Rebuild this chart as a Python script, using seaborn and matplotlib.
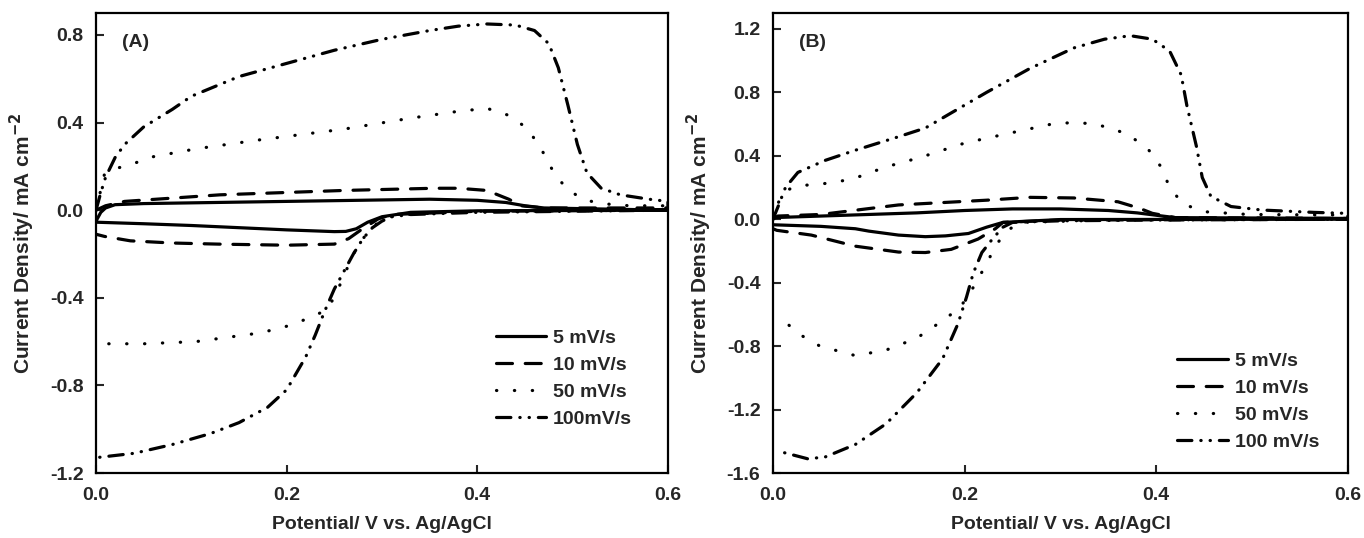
import numpy as np
import pandas as pd
import matplotlib
matplotlib.use("Agg")
import matplotlib.pyplot as plt
import seaborn as sns

# scan rates
rates = ["5 mV/s", "10 mV/s", "50 mV/s", "100mV/s"]
rates_b = ["5 mV/s", "10 mV/s", "50 mV/s", "100 mV/s"]

# ---------- Panel A ----------
# forward (anodic) branch, 0 -> 0.6 V
a5_up_x = [0.0, 0.005, 0.01, 0.02, 0.05, 0.2, 0.35, 0.4, 0.43, 0.45, 0.47, 0.6]
a5_up_y = [-0.05, -0.01, 0.01, 0.025, 0.03, 0.04, 0.05, 0.045, 0.035, 0.02, 0.01, 0.0]
# reverse (cathodic) branch, 0.6 -> 0 V
a5_dn_x = [0.6, 0.4, 0.33, 0.3, 0.285, 0.273, 0.262, 0.25, 0.2, 0.15, 0.1, 0.05, 0.0]
a5_dn_y = [0.0, -0.003, -0.01, -0.03, -0.055, -0.085, -0.097, -0.098, -0.09, -0.08, -0.07, -0.062, -0.055]

a10_up_x = [0.0, 0.01, 0.03, 0.13, 0.26, 0.355, 0.38, 0.41, 0.433, 0.446, 0.47, 0.5, 0.6]
a10_up_y = [0.0, 0.02, 0.04, 0.07, 0.09, 0.1, 0.1, 0.09, 0.05, 0.02, 0.01, 0.01, 0.01]
a10_dn_x = [0.6, 0.4, 0.31, 0.296, 0.278, 0.265, 0.25, 0.2, 0.128, 0.08, 0.036, 0.009, 0.0]
a10_dn_y = [0.0, -0.005, -0.02, -0.04, -0.09, -0.13, -0.155, -0.16, -0.155, -0.15, -0.14, -0.12, -0.11]

a50_up_x = [0.0, 0.009, 0.02, 0.036, 0.055, 0.105, 0.17, 0.26, 0.33, 0.378, 0.41, 0.435, 0.453,
            0.467, 0.478, 0.492, 0.51, 0.53, 0.56, 0.6]
a50_up_y = [0.0, 0.167, 0.19, 0.206, 0.24, 0.28, 0.32, 0.37, 0.42, 0.45, 0.465, 0.43, 0.37,
            0.28, 0.19, 0.105, 0.05, 0.03, 0.02, 0.02]
a50_dn_x = [0.6, 0.4, 0.32, 0.3, 0.29, 0.28, 0.27, 0.26, 0.25, 0.24, 0.219, 0.2, 0.173, 0.105, 0.05, 0.009]
a50_dn_y = [0.0, -0.005, -0.02, -0.04, -0.08, -0.13, -0.2, -0.3, -0.4, -0.46, -0.5, -0.53, -0.56,
            -0.6, -0.61, -0.61]

a100_up_x = [0.0, 0.005, 0.01, 0.02, 0.03, 0.05, 0.08, 0.1, 0.15, 0.2, 0.25, 0.3, 0.35, 0.38, 0.41,
             0.44, 0.46, 0.475, 0.485, 0.495, 0.505, 0.515, 0.53, 0.55, 0.58, 0.6]
a100_up_y = [0.0, 0.08, 0.15, 0.24, 0.3, 0.38, 0.46, 0.52, 0.61, 0.67, 0.73, 0.78, 0.82, 0.84, 0.85,
             0.845, 0.82, 0.76, 0.65, 0.48, 0.3, 0.17, 0.1, 0.07, 0.05, 0.04]
a100_dn_x = [0.6, 0.5, 0.4, 0.33, 0.31, 0.3, 0.29, 0.28, 0.27, 0.26, 0.25, 0.24, 0.23, 0.22, 0.2,
             0.18, 0.15, 0.12, 0.08, 0.04, 0.0]
a100_dn_y = [0.0, -0.005, -0.01, -0.02, -0.03, -0.05, -0.08, -0.13, -0.2, -0.28, -0.36, -0.46, -0.57,
             -0.67, -0.82, -0.9, -0.97, -1.02, -1.07, -1.11, -1.13]

# ---------- Panel B ----------
b5_up_x = [0.0, 0.05, 0.1, 0.15, 0.2, 0.25, 0.3, 0.35, 0.38, 0.4, 0.42, 0.6]
b5_up_y = [0.01, 0.02, 0.03, 0.04, 0.055, 0.065, 0.065, 0.055, 0.04, 0.025, 0.01, 0.005]
b5_dn_x = [0.6, 0.3, 0.24, 0.223, 0.204, 0.18, 0.159, 0.131, 0.1, 0.086, 0.05, 0.0]
b5_dn_y = [0.0, -0.002, -0.02, -0.05, -0.09, -0.105, -0.11, -0.1, -0.075, -0.06, -0.045, -0.035]

b10_up_x = [0.0, 0.005, 0.05, 0.131, 0.223, 0.268, 0.314, 0.36, 0.382, 0.396, 0.42, 0.6]
b10_up_y = [0.0, 0.02, 0.03, 0.09, 0.12, 0.138, 0.134, 0.11, 0.07, 0.037, 0.01, 0.005]
b10_dn_x = [0.6, 0.3, 0.24, 0.232, 0.214, 0.186, 0.159, 0.131, 0.086, 0.04, 0.004, 0.0]
b10_dn_y = [0.0, -0.005, -0.02, -0.06, -0.125, -0.19, -0.21, -0.207, -0.17, -0.1, -0.07, -0.06]

b50_up_x = [0.0, 0.006, 0.013, 0.026, 0.063, 0.086, 0.118, 0.154, 0.2, 0.245, 0.291, 0.314, 0.337,
            0.369, 0.391, 0.405, 0.414, 0.428, 0.451, 0.496, 0.6]
b50_up_y = [0.0, 0.11, 0.18, 0.21, 0.23, 0.26, 0.33, 0.39, 0.48, 0.54, 0.6, 0.61, 0.6,
            0.54, 0.446, 0.33, 0.2, 0.095, 0.047, 0.03, 0.026]
b50_dn_x = [0.6, 0.35, 0.26, 0.25, 0.243, 0.232, 0.223, 0.209, 0.195, 0.172, 0.15, 0.118, 0.086,
            0.049, 0.026, 0.008]
b50_dn_y = [0.0, -0.005, -0.02, -0.05, -0.08, -0.17, -0.28, -0.43, -0.56, -0.66, -0.75, -0.825,
            -0.86, -0.8, -0.72, -0.62]

b100_up_x = [0.0, 0.006, 0.013, 0.026, 0.054, 0.086, 0.131, 0.159, 0.186, 0.223, 0.268, 0.314,
             0.346, 0.373, 0.396, 0.414, 0.426, 0.432, 0.442, 0.448, 0.457, 0.478, 0.51, 0.565, 0.6]
b100_up_y = [0.0, 0.09, 0.2, 0.295, 0.37, 0.435, 0.52, 0.575, 0.67, 0.8, 0.95, 1.08,
             1.135, 1.157, 1.135, 1.06, 0.91, 0.715, 0.457, 0.263, 0.144, 0.08, 0.058, 0.043, 0.037]
b100_dn_x = [0.6, 0.4, 0.3, 0.25, 0.24, 0.229, 0.218, 0.209, 0.202, 0.193, 0.177, 0.15, 0.118,
             0.086, 0.054, 0.036, 0.017, 0.004]
b100_dn_y = [0.0, -0.005, -0.01, -0.02, -0.05, -0.125, -0.21, -0.34, -0.49, -0.66, -0.88, -1.095,
             -1.29, -1.42, -1.5, -1.51, -1.48, -1.46]

# line styles: solid, dashed, dotted, dash-dot-dot
styles = ["-", (0, (5, 4)), (0, (0.1, 5.5)), (0, (4.5, 2.8, 0.1, 2.8, 0.1, 2.8))]


def make_loop(up_x, up_y, dn_x, dn_y):
    return list(up_x) + list(dn_x), list(up_y) + list(dn_y)


panel_a = [(a5_up_x, a5_up_y, a5_dn_x, a5_dn_y),
           (a10_up_x, a10_up_y, a10_dn_x, a10_dn_y),
           (a50_up_x, a50_up_y, a50_dn_x, a50_dn_y),
           (a100_up_x, a100_up_y, a100_dn_x, a100_dn_y)]
panel_b = [(b5_up_x, b5_up_y, b5_dn_x, b5_dn_y),
           (b10_up_x, b10_up_y, b10_dn_x, b10_dn_y),
           (b50_up_x, b50_up_y, b50_dn_x, b50_dn_y),
           (b100_up_x, b100_up_y, b100_dn_x, b100_dn_y)]

sns.set_style("ticks")
plt.rcParams['font.family'] = ['Liberation Sans', 'DejaVu Sans']
plt.rcParams['font.weight'] = 'bold'
plt.rcParams['axes.labelweight'] = 'bold'
plt.rcParams['mathtext.default'] = 'bf'

FS = 14

fig = plt.figure(figsize=(13.64, 5.38), dpi=100)
ax1 = fig.add_axes([0.0704, 0.1208, 0.4193, 0.855])
ax2 = fig.add_axes([0.5667, 0.1208, 0.4215, 0.855])


def draw_panel(ax, curves, labels, ylim, yticks, tag, leg_anchor):
    for (ux, uy, dx, dy), lab, ls in zip(curves, labels, styles):
        x, y = make_loop(ux, uy, dx, dy)
        df = pd.DataFrame({"E": x, "j": y})
        sns.lineplot(data=df, x="E", y="j", ax=ax, sort=False, estimator=None,
                     color="black", lw=2.3, linestyle=ls, label=lab,
                     dash_capstyle="round")
    ax.set_xlim(0, 0.6)
    ax.set_ylim(*ylim)
    ax.set_xticks([0.0, 0.2, 0.4, 0.6])
    ax.set_yticks(yticks)
    ax.xaxis.set_major_formatter(plt.FormatStrFormatter('%.1f'))
    ax.yaxis.set_major_formatter(plt.FormatStrFormatter('%.1f'))
    ax.tick_params(direction="in", length=6, width=1.5, labelsize=FS)
    ax.tick_params(axis="x", pad=10)
    ax.tick_params(axis="y", pad=9)
    for sp in ax.spines.values():
        sp.set_linewidth(1.6)
        sp.set_color("black")
    ax.set_xlabel("Potential/ V vs. Ag/AgCl", fontsize=FS, labelpad=9)
    ax.set_ylabel(r"Current Density/ mA cm$^{-2}$", fontsize=15, labelpad=9)
    ax.text(0.045, 0.935, tag, transform=ax.transAxes, fontsize=FS,
            fontweight="bold", va="center")
    ax.legend(loc="lower left", bbox_to_anchor=leg_anchor, frameon=False,
              fontsize=FS, handlelength=2.6, handletextpad=0.35,
              labelspacing=0.47, borderaxespad=0)


draw_panel(ax1, panel_a, rates, (-1.2, 0.9), [-1.2, -0.8, -0.4, 0.0, 0.4, 0.8], "(A)", (0.685, 0.082))
draw_panel(ax2, panel_b, rates_b, (-1.6, 1.3), [-1.6, -1.2, -0.8, -0.4, 0.0, 0.4, 0.8, 1.2], "(B)", (0.69, 0.032))

fig.savefig("out.png", dpi=100)
